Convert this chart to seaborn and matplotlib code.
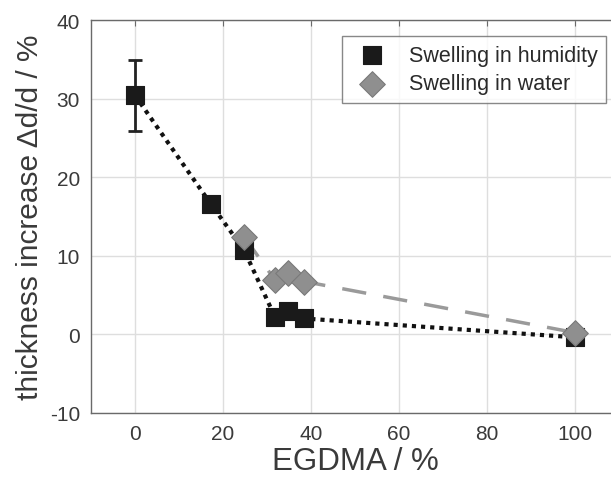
import matplotlib
matplotlib.use("Agg")
import matplotlib.pyplot as plt
import seaborn as sns
import pandas as pd

# data
egdma_hum = [0, 17.2, 24.8, 31.8, 34.7, 38.3, 100]
swell_hum = [30.4, 16.6, 10.7, 2.2, 3.0, 2.0, -0.4]
err_hum = [4.5, 0, 1.0, 0, 0, 0, 0]

egdma_wat = [24.8, 31.8, 34.7, 38.5, 100]
swell_wat = [12.4, 6.9, 7.8, 6.7, 0.2]

xticks = [0, 20, 40, 60, 80, 100]
yticks = [-10, 0, 10, 20, 30, 40]

sns.set_style("white")
plt.rcParams['font.family'] = ['Liberation Sans', 'DejaVu Sans']
plt.rcParams['axes.unicode_minus'] = False

fig = plt.figure(figsize=(6.11, 4.89), dpi=100)
ax = fig.add_axes([0.149, 0.154, 0.864, 0.803])

df_h = pd.DataFrame({"x": egdma_hum, "y": swell_hum})
df_w = pd.DataFrame({"x": egdma_wat, "y": swell_wat})

# lines
sns.lineplot(data=df_w, x="x", y="y", ax=ax, color="#9a9a9a", lw=2.5,
             dashes=False, zorder=2, legend=False)
ax.lines[-1].set_dashes([7, 5])
sns.lineplot(data=df_h, x="x", y="y", ax=ax, color="#111111", lw=3,
             zorder=3, legend=False)
ax.lines[-1].set_dashes([1, 1.2])

# error bars
ax.errorbar(egdma_hum, swell_hum, yerr=err_hum, fmt="none", ecolor="#222222",
            elinewidth=2, capsize=5, capthick=2, zorder=4)

# markers
sns.scatterplot(data=df_h, x="x", y="y", ax=ax, marker="s", s=150,
                color="#1a1a1a", edgecolor="#1a1a1a", linewidth=0.8, zorder=5,
                label="Swelling in humidity")
sns.scatterplot(data=df_w, x="x", y="y", ax=ax, marker="D", s=170,
                color="#8f8f8f", edgecolor="#7a7a7a", linewidth=0.8, zorder=6,
                label="Swelling in water")

ax.set_xlim(-10, 110)
ax.set_ylim(-10, 40)
ax.set_xticks(xticks)
ax.set_yticks(yticks)
ax.grid(True, color="#dedede", lw=1)
ax.set_axisbelow(True)
for s in ax.spines.values():
    s.set_color("#6a6a6a")
    s.set_linewidth(1)
ax.tick_params(direction="in", length=4, color="#6a6a6a", labelsize=15,
               labelcolor="#3a3a3a", top=True, right=True, pad=8)
ax.set_xlabel("EGDMA / %", fontsize=22.5, color="#3a3a3a", labelpad=2)
ax.set_ylabel("thickness increase \u0394d/d / %", fontsize=21.5, color="#3a3a3a", labelpad=4)

leg = ax.legend(loc="upper left", bbox_to_anchor=(0.475, 0.959), fontsize=15.5,
                frameon=True, fancybox=False, edgecolor="#6a6a6a",
                handletextpad=0.7, borderpad=0.4, labelspacing=0.35,
                markerscale=1.0, borderaxespad=0)
leg.get_frame().set_linewidth(1)
for t in leg.get_texts():
    t.set_color("#2a2a2a")

fig.savefig("out.png", dpi=100)
